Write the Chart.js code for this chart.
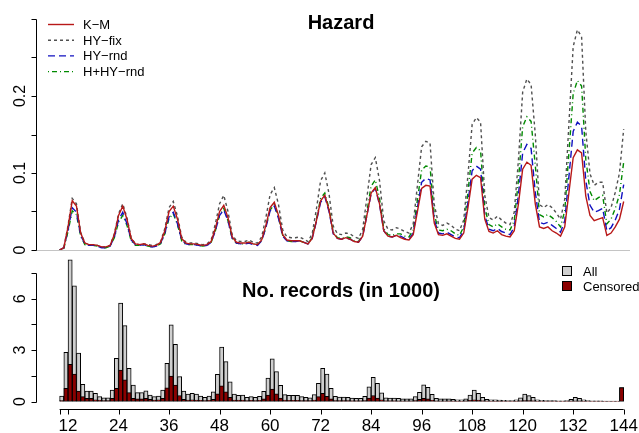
<!DOCTYPE html>
<html>
<head>
<meta charset="utf-8">
<script src="https://cdn.jsdelivr.net/npm/chart.js@4.4.0/dist/chart.umd.min.js"></script>
<style>
  html, body { margin: 0; padding: 0; background: #fff; }
  #wrap { position: relative; width: 639px; height: 433px; overflow: hidden; }
  #hazardChart { position: absolute; left: 0; top: 0; }
  #recordsChart { position: absolute; left: 0; top: 250px; }
</style>
</head>
<body>
<div id="wrap">
  <canvas id="hazardChart" width="639" height="255"></canvas>
  <canvas id="recordsChart" width="639" height="183"></canvas>
</div>
<script>
// months (time since start) for the hazard curves
const hazardMonths = [10, 11, 12, 13, 14, 15, 16, 17, 18, 19, 20, 21, 22, 23, 24, 25, 26, 27, 28, 29, 30,
  31, 32, 33, 34, 35, 36, 37, 38, 39, 40, 41, 42, 43, 44, 45, 46, 47, 48, 49, 50, 51, 52, 53, 54, 55, 56,
  57, 58, 59, 60, 61, 62, 63, 64, 65, 66, 67, 68, 69, 70, 71, 72, 73, 74, 75, 76, 77, 78, 79, 80, 81, 82,
  83, 84, 85, 86, 87, 88, 89, 90, 91, 92, 93, 94, 95, 96, 97, 98, 99, 100, 101, 102, 103, 104, 105, 106,
  107, 108, 109, 110, 111, 112, 113, 114, 115, 116, 117, 118, 119, 120, 121, 122, 123, 124, 125, 126,
  127, 128, 129, 130, 131, 132, 133, 134, 135, 136, 137, 138, 139, 140, 141, 142, 143, 144];

const kmHazard = [0.000, 0.003, 0.030, 0.064, 0.057, 0.022, 0.009, 0.007, 0.007, 0.006, 0.004, 0.004,
  0.006, 0.020, 0.045, 0.057, 0.040, 0.015, 0.008, 0.007, 0.008, 0.006, 0.005, 0.006,
  0.010, 0.025, 0.050, 0.057, 0.040, 0.015, 0.009, 0.008, 0.008, 0.007, 0.006, 0.007,
  0.011, 0.028, 0.050, 0.058, 0.042, 0.017, 0.010, 0.009, 0.009, 0.010, 0.008, 0.007,
  0.013, 0.032, 0.055, 0.062, 0.045, 0.020, 0.013, 0.012, 0.012, 0.012, 0.010, 0.008,
  0.015, 0.038, 0.064, 0.071, 0.052, 0.022, 0.015, 0.014, 0.016, 0.014, 0.011, 0.010,
  0.018, 0.045, 0.074, 0.081, 0.060, 0.025, 0.018, 0.017, 0.019, 0.016, 0.014, 0.013,
  0.020, 0.050, 0.080, 0.084, 0.083, 0.035, 0.020, 0.019, 0.021, 0.018, 0.015, 0.014,
  0.022, 0.055, 0.092, 0.097, 0.094, 0.040, 0.024, 0.022, 0.025, 0.020, 0.018, 0.017,
  0.025, 0.060, 0.105, 0.114, 0.110, 0.060, 0.030, 0.028, 0.030, 0.025, 0.022, 0.018,
  0.030, 0.075, 0.120, 0.130, 0.126, 0.070, 0.045, 0.038, 0.040, 0.042, 0.019, 0.022,
  0.030, 0.040, 0.063];

const hyFixHazard = [0.000, 0.003, 0.032, 0.067, 0.060, 0.023, 0.009, 0.007, 0.007, 0.006, 0.004, 0.004,
  0.006, 0.021, 0.047, 0.060, 0.042, 0.016, 0.008, 0.007, 0.008, 0.007, 0.006, 0.007,
  0.011, 0.028, 0.055, 0.063, 0.044, 0.017, 0.010, 0.009, 0.009, 0.008, 0.007, 0.008,
  0.013, 0.034, 0.060, 0.071, 0.050, 0.020, 0.012, 0.011, 0.011, 0.013, 0.010, 0.009,
  0.017, 0.042, 0.072, 0.081, 0.059, 0.026, 0.017, 0.016, 0.016, 0.017, 0.014, 0.011,
  0.021, 0.053, 0.090, 0.100, 0.073, 0.031, 0.021, 0.020, 0.022, 0.021, 0.017, 0.015,
  0.027, 0.068, 0.111, 0.120, 0.090, 0.038, 0.027, 0.026, 0.029, 0.027, 0.024, 0.022,
  0.034, 0.084, 0.134, 0.141, 0.139, 0.059, 0.034, 0.032, 0.035, 0.032, 0.027, 0.025,
  0.039, 0.097, 0.163, 0.172, 0.166, 0.071, 0.042, 0.039, 0.044, 0.039, 0.035, 0.033,
  0.049, 0.117, 0.205, 0.222, 0.215, 0.150, 0.059, 0.055, 0.059, 0.055, 0.048, 0.040,
  0.066, 0.165, 0.264, 0.286, 0.277, 0.154, 0.099, 0.084, 0.088, 0.088, 0.048, 0.055,
  0.075, 0.100, 0.157];

const hyRndHazard = [0.000, 0.003, 0.026, 0.055, 0.049, 0.019, 0.008, 0.006, 0.006, 0.005, 0.003, 0.003,
  0.005, 0.017, 0.039, 0.049, 0.034, 0.013, 0.007, 0.006, 0.007, 0.005, 0.004, 0.005,
  0.009, 0.022, 0.043, 0.049, 0.034, 0.013, 0.008, 0.007, 0.007, 0.006, 0.005, 0.006,
  0.010, 0.025, 0.045, 0.052, 0.038, 0.015, 0.009, 0.008, 0.008, 0.009, 0.007, 0.006,
  0.012, 0.029, 0.051, 0.057, 0.041, 0.018, 0.012, 0.011, 0.011, 0.012, 0.010, 0.008,
  0.015, 0.037, 0.062, 0.069, 0.050, 0.021, 0.015, 0.014, 0.016, 0.014, 0.011, 0.010,
  0.018, 0.045, 0.073, 0.080, 0.059, 0.025, 0.018, 0.017, 0.019, 0.018, 0.015, 0.014,
  0.022, 0.055, 0.088, 0.093, 0.091, 0.039, 0.022, 0.021, 0.023, 0.020, 0.017, 0.016,
  0.025, 0.062, 0.103, 0.109, 0.105, 0.045, 0.027, 0.025, 0.028, 0.024, 0.022, 0.020,
  0.030, 0.072, 0.126, 0.137, 0.132, 0.075, 0.036, 0.034, 0.036, 0.032, 0.028, 0.023,
  0.038, 0.096, 0.154, 0.166, 0.161, 0.090, 0.058, 0.049, 0.051, 0.054, 0.025, 0.029,
  0.039, 0.053, 0.085];

const hHyRndHazard = [0.000, 0.002, 0.024, 0.051, 0.046, 0.018, 0.007, 0.006, 0.006, 0.005, 0.003, 0.003,
  0.005, 0.016, 0.036, 0.045, 0.032, 0.012, 0.006, 0.006, 0.006, 0.005, 0.004, 0.005,
  0.008, 0.021, 0.041, 0.047, 0.033, 0.012, 0.007, 0.007, 0.007, 0.006, 0.005, 0.006,
  0.010, 0.025, 0.045, 0.054, 0.038, 0.015, 0.009, 0.008, 0.008, 0.010, 0.008, 0.007,
  0.012, 0.030, 0.052, 0.059, 0.043, 0.019, 0.012, 0.011, 0.011, 0.012, 0.010, 0.008,
  0.016, 0.040, 0.067, 0.074, 0.054, 0.023, 0.016, 0.015, 0.017, 0.016, 0.012, 0.011,
  0.020, 0.050, 0.083, 0.091, 0.067, 0.028, 0.020, 0.019, 0.021, 0.021, 0.018, 0.017,
  0.026, 0.065, 0.104, 0.109, 0.108, 0.046, 0.026, 0.025, 0.027, 0.025, 0.021, 0.019,
  0.030, 0.075, 0.126, 0.133, 0.129, 0.055, 0.033, 0.030, 0.034, 0.030, 0.027, 0.026,
  0.038, 0.091, 0.160, 0.173, 0.167, 0.110, 0.046, 0.043, 0.046, 0.042, 0.037, 0.030,
  0.051, 0.127, 0.203, 0.220, 0.213, 0.118, 0.076, 0.064, 0.068, 0.071, 0.034, 0.040,
  0.054, 0.072, 0.114];

// monthly record counts (in 1000), one bar per month interval [m, m+1)
const recordMonths = [10, 11, 12, 13, 14, 15, 16, 17, 18, 19, 20, 21, 22, 23, 24, 25, 26, 27, 28, 29, 30,
  31, 32, 33, 34, 35, 36, 37, 38, 39, 40, 41, 42, 43, 44, 45, 46, 47, 48, 49, 50, 51, 52, 53, 54, 55, 56,
  57, 58, 59, 60, 61, 62, 63, 64, 65, 66, 67, 68, 69, 70, 71, 72, 73, 74, 75, 76, 77, 78, 79, 80, 81, 82,
  83, 84, 85, 86, 87, 88, 89, 90, 91, 92, 93, 94, 95, 96, 97, 98, 99, 100, 101, 102, 103, 104, 105, 106,
  107, 108, 109, 110, 111, 112, 113, 114, 115, 116, 117, 118, 119, 120, 121, 122, 123, 124, 125, 126,
  127, 128, 129, 130, 131, 132, 133, 134, 135, 136, 137, 138, 139, 140, 141, 142, 143];

const allRecords = [0.32, 2.87, 8.27, 6.75, 2.82, 1.00, 0.61, 0.61, 0.48, 0.28, 0.22, 0.22,
  0.67, 2.52, 5.74, 4.43, 1.94, 0.96, 0.52, 0.52, 0.62, 0.38, 0.28, 0.32,
  0.67, 2.23, 4.47, 3.34, 1.45, 0.61, 0.44, 0.48, 0.44, 0.32, 0.24, 0.32,
  0.57, 1.59, 3.17, 2.33, 1.15, 0.44, 0.36, 0.38, 0.24, 0.28, 0.24, 0.30,
  0.60, 1.36, 2.49, 1.74, 0.95, 0.40, 0.36, 0.36, 0.36, 0.28, 0.24, 0.22,
  0.40, 1.06, 1.94, 1.60, 0.77, 0.30, 0.26, 0.26, 0.24, 0.20, 0.18, 0.18,
  0.30, 0.86, 1.41, 1.06, 0.50, 0.22, 0.20, 0.20, 0.18, 0.16, 0.15, 0.15,
  0.28, 0.54, 0.97, 0.83, 0.42, 0.18, 0.16, 0.16, 0.15, 0.12, 0.10, 0.10,
  0.15, 0.38, 0.67, 0.48, 0.24, 0.12, 0.10, 0.10, 0.09, 0.07, 0.06, 0.06,
  0.10, 0.22, 0.44, 0.34, 0.24, 0.10, 0.07, 0.06, 0.06, 0.05, 0.04, 0.04,
  0.06, 0.12, 0.24, 0.18, 0.10, 0.05, 0.04, 0.04, 0.04, 0.03, 0.03, 0.03,
  0.03, 0.81];

const censoredRecords = [0.05, 0.77, 2.17, 1.60, 0.61, 0.28, 0.18, 0.18, 0.10, 0.08, 0.06, 0.06,
  0.18, 0.77, 1.84, 1.26, 0.52, 0.18, 0.15, 0.15, 0.18, 0.12, 0.08, 0.10,
  0.18, 0.80, 1.49, 0.96, 0.35, 0.13, 0.09, 0.10, 0.09, 0.07, 0.06, 0.07,
  0.12, 0.45, 0.91, 0.56, 0.24, 0.09, 0.08, 0.08, 0.06, 0.07, 0.06, 0.07,
  0.15, 0.38, 0.72, 0.45, 0.20, 0.08, 0.07, 0.07, 0.07, 0.06, 0.05, 0.05,
  0.08, 0.28, 0.47, 0.30, 0.15, 0.06, 0.05, 0.05, 0.05, 0.04, 0.04, 0.04,
  0.06, 0.20, 0.35, 0.20, 0.10, 0.04, 0.04, 0.04, 0.03, 0.03, 0.03, 0.03,
  0.05, 0.13, 0.18, 0.15, 0.07, 0.03, 0.03, 0.03, 0.02, 0.02, 0.02, 0.02,
  0.03, 0.07, 0.10, 0.08, 0.04, 0.02, 0.02, 0.02, 0.02, 0.01, 0.01, 0.01,
  0.02, 0.04, 0.06, 0.05, 0.04, 0.02, 0.01, 0.01, 0.01, 0.01, 0.01, 0.01,
  0.01, 0.02, 0.03, 0.03, 0.02, 0.01, 0.01, 0.01, 0.01, 0.01, 0.01, 0.01,
  0.01, 0.81];

// axis ticks
const xTickValues = [10, 12, 24, 36, 48, 60, 72, 84, 96, 108, 120, 132, 144];
const xTickLabels = ['', '12', '24', '36', '48', '60', '72', '84', '96', '108', '120', '132', '144'];
const hazardTickValues = [0, 0.05, 0.1, 0.15, 0.2, 0.25, 0.3];
const hazardTickLabels = ['0', '', '0.1', '', '0.2', '', ''];
const recordTickValues = [0, 1.5, 3, 4.5, 6, 7.5];
const recordTickLabels = ['0', '', '3', '', '6', ''];

const hazardSeries = [
  { label: 'K\u2212M', data: kmHazard, color: '#b81818', dash: [], width: 1.4 },
  { label: 'HY\u2212fix', data: hyFixHazard, color: '#505050', dash: [3, 3], width: 1.4 },
  { label: 'HY\u2212rnd', data: hyRndHazard, color: '#1010c0', dash: [7, 4], width: 1.4 },
  { label: 'H+HY\u2212rnd', data: hHyRndHazard, color: '#008a00', dash: [1, 3, 5, 3], width: 1.4 }
];

const xMin = 4.39, xMax = 145.5;
const fontFamily = '"Liberation Sans", Arial, Helvetica, sans-serif';

function rotatedLabel(ctx, text, x, y) {
  ctx.save();
  ctx.translate(x, y);
  ctx.rotate(-Math.PI / 2);
  ctx.textAlign = 'center';
  ctx.textBaseline = 'alphabetic';
  ctx.fillText(text, 0, 0);
  ctx.restore();
}

// y axis the R way: line from first to last tick, short ticks, upright labels turned 90 degrees
function drawYAxis(chart, values, labels) {
  const ctx = chart.ctx;
  const yScale = chart.scales.y;
  const axisX = 36.5;
  ctx.save();
  ctx.strokeStyle = '#000';
  ctx.lineWidth = 1;
  ctx.beginPath();
  ctx.moveTo(axisX, Math.round(yScale.getPixelForValue(values[0])) + 0.5);
  ctx.lineTo(axisX, Math.round(yScale.getPixelForValue(values[values.length - 1])) + 0.5);
  values.forEach(v => {
    const py = Math.round(yScale.getPixelForValue(v)) + 0.5;
    ctx.moveTo(axisX, py);
    ctx.lineTo(axisX - 5, py);
  });
  ctx.stroke();
  ctx.fillStyle = '#000';
  ctx.font = '16px ' + fontFamily;
  values.forEach((v, i) => {
    if (labels[i]) rotatedLabel(ctx, labels[i], 25, yScale.getPixelForValue(v));
  });
  ctx.restore();
}

const hazardDecor = {
  id: 'hazardDecor',
  beforeDatasetsDraw(chart) {
    const ctx = chart.ctx;
    const area = chart.chartArea;
    const y0 = Math.round(chart.scales.y.getPixelForValue(0)) + 0.5;
    ctx.save();
    ctx.strokeStyle = '#c4c4c4';
    ctx.lineWidth = 1;
    ctx.beginPath();
    ctx.moveTo(area.left, y0);
    ctx.lineTo(area.right, y0);
    ctx.stroke();
    ctx.restore();
  },
  afterDraw(chart) {
    const ctx = chart.ctx;
    drawYAxis(chart, hazardTickValues, hazardTickLabels);
    ctx.save();
    ctx.fillStyle = '#000';
    ctx.font = 'bold 20px ' + fontFamily;
    ctx.textAlign = 'center';
    ctx.textBaseline = 'alphabetic';
    ctx.fillText('Hazard', 341, 29);
    // legend
    ctx.font = '13px ' + fontFamily;
    ctx.textAlign = 'left';
    ctx.textBaseline = 'middle';
    hazardSeries.forEach((s, i) => {
      const ly = 24.5 + i * 15.7;
      ctx.strokeStyle = s.color;
      ctx.lineWidth = s.width;
      ctx.setLineDash(s.dash);
      ctx.beginPath();
      ctx.moveTo(48, ly);
      ctx.lineTo(74, ly);
      ctx.stroke();
      ctx.setLineDash([]);
      ctx.fillText(s.label, 83, ly + 1);
    });
    ctx.restore();
  }
};

const recordsDecor = {
  id: 'recordsDecor',
  afterDraw(chart) {
    const ctx = chart.ctx;
    const xScale = chart.scales.x;
    drawYAxis(chart, recordTickValues, recordTickLabels);
    ctx.save();
    // x axis
    const axisY = 159.5;
    ctx.strokeStyle = '#000';
    ctx.lineWidth = 1;
    ctx.beginPath();
    ctx.moveTo(xScale.getPixelForValue(xTickValues[0]), axisY);
    ctx.lineTo(xScale.getPixelForValue(xTickValues[xTickValues.length - 1]), axisY);
    xTickValues.forEach(v => {
      const px = Math.round(xScale.getPixelForValue(v)) + 0.5;
      ctx.moveTo(px, axisY);
      ctx.lineTo(px, axisY + 5);
    });
    ctx.stroke();
    ctx.fillStyle = '#000';
    ctx.font = '17px ' + fontFamily;
    ctx.textAlign = 'center';
    ctx.textBaseline = 'alphabetic';
    xTickValues.forEach((v, i) => {
      if (xTickLabels[i]) ctx.fillText(xTickLabels[i], xScale.getPixelForValue(v), 181);
    });
    // title
    ctx.font = 'bold 20px ' + fontFamily;
    ctx.fillText('No. records (in 1000)', 341, 47);
    // legend
    ctx.font = '13px ' + fontFamily;
    ctx.textAlign = 'left';
    ctx.textBaseline = 'middle';
    const legendItems = [['All', '#cfcfcf'], ['Censored', '#8b0000']];
    legendItems.forEach((item, i) => {
      const ly = 21 + i * 15;
      ctx.fillStyle = item[1];
      ctx.fillRect(562, ly - 5, 10, 10);
      ctx.strokeStyle = '#000';
      ctx.strokeRect(562.5, ly - 4.5, 9, 9);
      ctx.fillStyle = '#000';
      ctx.fillText(item[0], 583, ly + 1);
    });
    ctx.restore();
  }
};

new Chart(document.getElementById('hazardChart'), {
  type: 'line',
  data: {
    datasets: hazardSeries.map((s, i) => ({
      label: s.label,
      data: hazardMonths.map((m, j) => ({ x: m, y: s.data[j] })),
      borderColor: s.color,
      borderWidth: s.width,
      borderDash: s.dash,
      pointRadius: 0,
      tension: 0,
      fill: false,
      order: i
    }))
  },
  options: {
    responsive: false,
    animation: false,
    events: [],
    layout: { padding: { left: 36, right: 9, top: 19, bottom: 5 } },
    scales: {
      x: { type: 'linear', min: xMin, max: xMax, display: false },
      y: { type: 'linear', min: 0, max: 0.3, display: false }
    },
    plugins: { legend: { display: false }, tooltip: { enabled: false } }
  },
  plugins: [hazardDecor]
});

new Chart(document.getElementById('recordsChart'), {
  type: 'bar',
  data: {
    datasets: [
      {
        label: 'Censored',
        data: recordMonths.map((m, j) => ({ x: m + 0.5, y: censoredRecords[j] })),
        backgroundColor: '#8b0000',
        borderColor: '#000',
        borderWidth: 1,
        borderSkipped: false,
        order: 0
      },
      {
        label: 'All',
        data: recordMonths.map((m, j) => ({ x: m + 0.5, y: allRecords[j] })),
        backgroundColor: '#cfcfcf',
        borderColor: '#000',
        borderWidth: 1,
        borderSkipped: false,
        order: 1
      }
    ]
  },
  options: {
    responsive: false,
    animation: false,
    events: [],
    grouped: false,
    barPercentage: 1,
    categoryPercentage: 1,
    layout: { padding: { left: 36, right: 9, top: 4, bottom: 31.5 } },
    scales: {
      x: { type: 'linear', min: xMin, max: xMax, offset: false, display: false },
      y: { type: 'linear', min: 0, max: 8.61, display: false }
    },
    plugins: { legend: { display: false }, tooltip: { enabled: false } }
  },
  plugins: [recordsDecor]
});
</script>
</body>
</html>
